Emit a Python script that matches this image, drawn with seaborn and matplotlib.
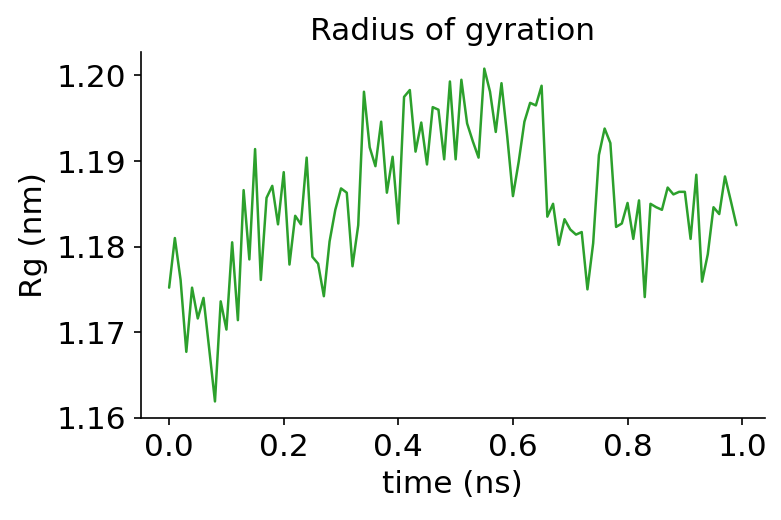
import numpy as np
import pandas as pd
import matplotlib
matplotlib.use("Agg")
import matplotlib.pyplot as plt
import seaborn as sns

# time in ns (0.00 .. 0.99)
time_ns = np.arange(100) / 100.0

# radius of gyration (nm)
rg_nm = [
    1.1752, 1.1810, 1.1761, 1.1677, 1.1752, 1.1716, 1.1740, 1.1680, 1.1619, 1.1736,
    1.1703, 1.1805, 1.1714, 1.1866, 1.1785, 1.1914, 1.1761, 1.1857, 1.1871, 1.1826,
    1.1887, 1.1779, 1.1836, 1.1826, 1.1904, 1.1788, 1.1780, 1.1742, 1.1806, 1.1843,
    1.1868, 1.1863, 1.1777, 1.1825, 1.1981, 1.1916, 1.1894, 1.1946, 1.1863, 1.1905,
    1.1827, 1.1975, 1.1983, 1.1911, 1.1945, 1.1896, 1.1963, 1.1960, 1.1902, 1.1993,
    1.1902, 1.1995, 1.1944, 1.1923, 1.1904, 1.2008, 1.1981, 1.1934, 1.1991, 1.1929,
    1.1859, 1.1899, 1.1946, 1.1968, 1.1965, 1.1988, 1.1835, 1.1850, 1.1802, 1.1832,
    1.1820, 1.1814, 1.1817, 1.1750, 1.1804, 1.1907, 1.1938, 1.1921, 1.1823, 1.1827,
    1.1851, 1.1809, 1.1854, 1.1741, 1.1850, 1.1846, 1.1843, 1.1869, 1.1861, 1.1864,
    1.1864, 1.1809, 1.1884, 1.1759, 1.1791, 1.1846, 1.1838, 1.1882, 1.1854, 1.1825,
]

df = pd.DataFrame({"time": time_ns, "rg": rg_nm})

# plain matplotlib look: black text, black spines
sns.set_style("ticks", {
    "axes.edgecolor": "black",
    "axes.labelcolor": "black",
    "text.color": "black",
    "xtick.color": "black",
    "ytick.color": "black",
})
plt.rcParams["font.family"] = ["DejaVu Sans"]
plt.rcParams["font.size"] = 15

fig = plt.figure(figsize=(782 / 150, 520 / 150), dpi=150)
ax = fig.add_axes([0.180, 0.196, 0.798, 0.704])
sns.lineplot(data=df, x="time", y="rg", color="#2ca02c", linewidth=1.2, ax=ax)

ax.set_title("Radius of gyration", fontsize=15)
ax.set_xlabel("time (ns)", fontsize=15)
ax.set_ylabel("Rg (nm)", fontsize=15)
ax.set_yticks([1.16, 1.17, 1.18, 1.19, 1.20])
ax.set_xticks([0.0, 0.2, 0.4, 0.6, 0.8, 1.0])
ax.tick_params(labelsize=15)
sns.despine(ax=ax)

fig.savefig("out.png", dpi=150)
